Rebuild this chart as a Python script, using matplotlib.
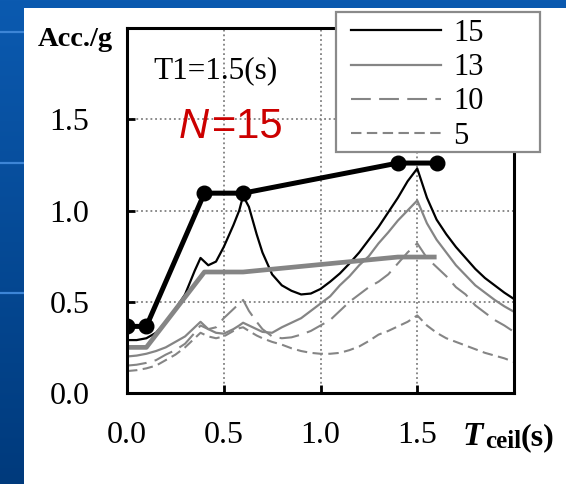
import numpy as np
import matplotlib
matplotlib.use("Agg")
import matplotlib.pyplot as plt
from matplotlib.patches import Rectangle
from matplotlib.lines import Line2D

# period axis (s) shared by all response curves
t_ceil = [0.0, 0.05, 0.1, 0.15, 0.2, 0.25, 0.3, 0.35, 0.38, 0.42, 0.46, 0.5, 0.55, 0.58,
          0.6, 0.63, 0.67, 0.7, 0.75, 0.8, 0.85, 0.9, 0.95, 1.0, 1.05, 1.1, 1.15, 1.2,
          1.25, 1.3, 1.35, 1.4, 1.45, 1.5, 1.55, 1.6, 1.65, 1.7, 1.75, 1.8, 1.85, 1.9,
          1.95, 2.0]

# thin curves: ceiling acceleration for N = 15, 13, 10, 5
acc_15 = [0.29, 0.29, 0.30, 0.33, 0.39, 0.46, 0.54, 0.67, 0.74, 0.70, 0.72, 0.80, 0.92, 1.00,
          1.08, 1.02, 0.87, 0.77, 0.65, 0.59, 0.56, 0.54, 0.545, 0.57, 0.61, 0.655, 0.71, 0.77,
          0.84, 0.91, 0.99, 1.07, 1.16, 1.23, 1.07, 0.95, 0.87, 0.80, 0.74, 0.68, 0.63, 0.59,
          0.55, 0.515]
acc_13 = [0.20, 0.205, 0.215, 0.23, 0.25, 0.28, 0.31, 0.36, 0.39, 0.35, 0.33, 0.325, 0.35, 0.37,
          0.385, 0.37, 0.35, 0.335, 0.33, 0.36, 0.385, 0.41, 0.45, 0.49, 0.53, 0.59, 0.64, 0.70,
          0.75, 0.82, 0.88, 0.945, 1.00, 1.055, 0.93, 0.84, 0.77, 0.70, 0.645, 0.59, 0.55, 0.51,
          0.475, 0.445]
acc_10 = [0.15, 0.155, 0.165, 0.18, 0.21, 0.235, 0.27, 0.33, 0.37, 0.35, 0.36, 0.41, 0.46, 0.49,
          0.51, 0.45, 0.39, 0.35, 0.31, 0.30, 0.305, 0.32, 0.34, 0.37, 0.40, 0.45, 0.50, 0.54,
          0.58, 0.61, 0.65, 0.71, 0.77, 0.82, 0.74, 0.69, 0.64, 0.58, 0.54, 0.48, 0.44, 0.40,
          0.37, 0.335]
acc_5 = [0.12, 0.125, 0.135, 0.15, 0.18, 0.21, 0.25, 0.30, 0.33, 0.31, 0.30, 0.31, 0.34, 0.355,
         0.36, 0.34, 0.315, 0.30, 0.28, 0.265, 0.245, 0.23, 0.22, 0.215, 0.215, 0.22, 0.235, 0.255,
         0.285, 0.32, 0.34, 0.365, 0.39, 0.425, 0.37, 0.33, 0.30, 0.28, 0.26, 0.24, 0.22, 0.205,
         0.19, 0.17]

# thick envelopes
env_t = [0.0, 0.1, 0.4, 0.6, 1.4, 1.6]
env_15 = [0.365, 0.365, 1.095, 1.095, 1.26, 1.26]
env_13 = [0.25, 0.25, 0.663, 0.663, 0.745, 0.745]

legend_labels = ["15", "13", "10", "5"]
tick_vals = [0.0, 0.5, 1.0, 1.5, 2.0]
tick_text = ["0.0", "0.5", "1.0", "1.5", ""]

W, H = 566, 484
gray = "#858585"
serif = "Liberation Serif"

fig = plt.figure(figsize=(W / 100, H / 100), dpi=100)

# blue slide background with white panel
bg = fig.add_axes([0, 0, 1, 1], zorder=-10)
grad = np.linspace(0, 1, 256).reshape(-1, 1)
bg.imshow(grad, aspect="auto", cmap=matplotlib.colors.LinearSegmentedColormap.from_list(
    "b", ["#0b5ab0", "#003a7c"]), extent=[0, 1, 0, 1], origin="upper")
for yy in [32, 163, 293]:
    bg.plot([0, 24 / W], [1 - yy / H, 1 - yy / H], color="#3d85d6", lw=1.6)
bg.set_xlim(0, 1)
bg.set_ylim(0, 1)
bg.axis("off")
fig.add_artist(Rectangle((24 / W, 0), 1 - 24 / W, 1 - 8 / H, transform=fig.transFigure,
                         facecolor="white", edgecolor="none", zorder=-5))

ax = fig.add_axes([127 / W, (H - 393) / H, (514 - 127) / W, (393 - 28) / H])
ax.set_facecolor("white")

ax.plot(t_ceil, acc_5, color=gray, lw=1.5, dashes=(5, 2.6))
ax.plot(t_ceil, acc_10, color=gray, lw=1.5, dashes=(9.5, 4))
ax.plot(t_ceil, acc_13, color=gray, lw=1.6)
ax.plot(t_ceil, acc_15, color="black", lw=1.6)
ax.plot(env_t, env_13, color=gray, lw=3.4, solid_capstyle="butt")
ax.plot(env_t, env_15, color="black", lw=3.6, marker="o", markersize=10.5)

ax.set_xlim(0, 2.0)
ax.set_ylim(0, 2.0)
ax.set_xticks(tick_vals)
ax.set_xticklabels(tick_text)
ax.set_yticks(tick_vals)
ax.set_yticklabels(tick_text)
ax.tick_params(direction="in", length=6, width=2, labelsize=23)
ax.tick_params(axis="y", pad=27)
ax.tick_params(axis="x", pad=20.5)
for lab in ax.get_xticklabels() + ax.get_yticklabels():
    lab.set_fontfamily(serif)
for s in ax.spines.values():
    s.set_linewidth(2.2)
ax.grid(True, color="#808080", lw=1.3, linestyle=(0, (1, 1.6)))
ax.set_axisbelow(True)

ax.text(0.134, 1.723, "T1=1.5(s)", fontsize=22.5, family=serif, va="baseline")
n_txt = ax.text(0.268, 1.40, "N", fontsize=30, family="Liberation Sans", style="italic",
                color="#cc0000", va="baseline")
ax.annotate("=15", xy=(1, 0), xycoords=n_txt, xytext=(2, 0), textcoords="offset points",
            fontsize=30, family="Liberation Sans", color="#cc0000", va="bottom")
ax.text(-0.072, 1.902, "Acc./g", fontsize=20.5, family=serif, weight="bold",
        ha="right", va="baseline", clip_on=False)
ax.text(1.736, -0.284, "T", fontsize=24, family=serif, weight="bold", style="italic",
        va="baseline", clip_on=False)
ax.text(1.849, -0.30, "ceil", fontsize=18, family=serif, weight="bold",
        va="baseline", clip_on=False)
ax.text(2.034, -0.284, "(s)", fontsize=23, family=serif, weight="bold",
        va="baseline", clip_on=False)

# legend box is wider than its contents, so the frame is drawn by hand
fig.add_artist(Rectangle((336 / W, 1 - 152 / H), (540 - 336) / W, (152 - 12) / H,
                         transform=fig.transFigure, facecolor="white",
                         edgecolor="#8a8a8a", lw=1.6, zorder=5))
handles = [Line2D([], [], color="black", lw=1.6),
           Line2D([], [], color=gray, lw=1.6),
           Line2D([], [], color=gray, lw=1.5, dashes=(9.5, 4)),
           Line2D([], [], color=gray, lw=1.5, dashes=(5, 2.6))]
leg = fig.legend(handles, legend_labels, loc="upper left",
                 bbox_to_anchor=(351 / W, 1 - 19 / H), bbox_transform=fig.transFigure,
                 borderaxespad=0, borderpad=0, frameon=False, handlelength=2.95,
                 labelspacing=0.17, handletextpad=0.4,
                 prop={"family": serif, "size": 22})
leg.set_zorder(6)

fig.savefig("out.png", dpi=100)
